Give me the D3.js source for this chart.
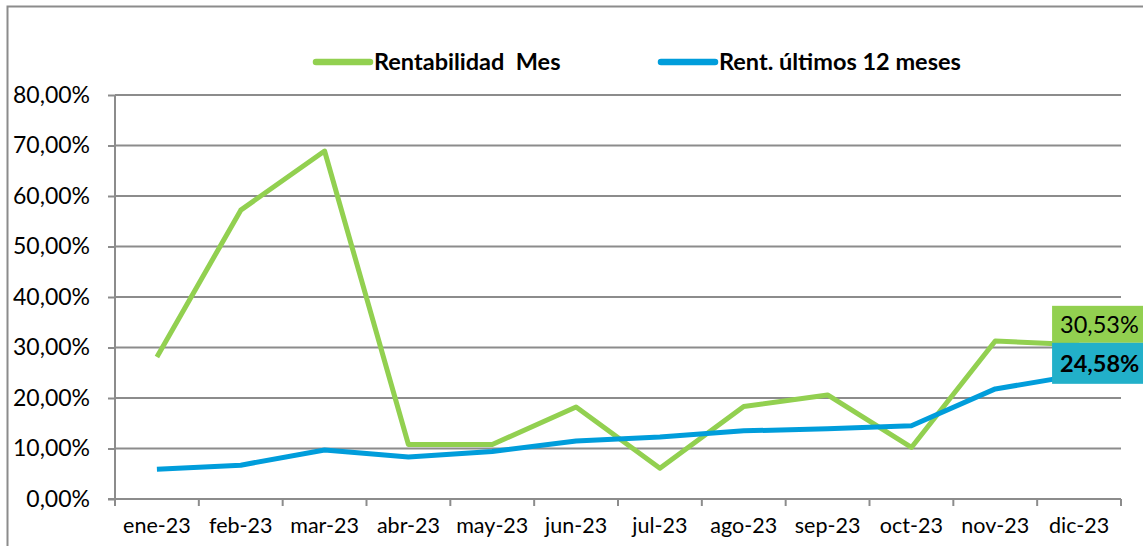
<!DOCTYPE html>
<html><head><meta charset="utf-8">
<script src="https://cdn.jsdelivr.net/npm/d3@7"></script>
<style>body{margin:0;background:#fff}svg{display:block}</style>
</head><body>
<svg id="c" width="1143" height="546"></svg>
<script>
const months = ["ene-23","feb-23","mar-23","abr-23","may-23","jun-23","jul-23","ago-23","sep-23","oct-23","nov-23","dic-23"];
const rentMes = [28.1, 57.2, 68.9, 10.8, 10.8, 18.2, 6.1, 18.3, 20.6, 10.2, 31.3, 30.53];
const rent12 = [5.9, 6.7, 9.7, 8.3, 9.4, 11.5, 12.3, 13.5, 13.9, 14.5, 21.8, 24.58];
const yTicks = [0,10,20,30,40,50,60,70,80];
const seriesNames = ["Rentabilidad  Mes", "Rent. últimos 12 meses"];
const colors = ["#92d050", "#009ddb"];
const labelFills = ["#92d050", "#22b0c9"];

const svg = d3.select("#c");
const font = "Lato, 'Open Sans', sans-serif";
const L = 115, R = 1121, T = 95, B = 499;
const x = d3.scaleBand().domain(months).range([L, R]);
const y = d3.scaleLinear().domain([0, 80]).range([B, T]);
const fmt = v => d3.format(".2f")(v).replace(".", ",") + "%";

// outer frame
svg.append("path").attr("d", "M7.5,546 V6.5 H1143").attr("fill","none").attr("stroke","#8c8c8c").attr("stroke-width",2);

// gridlines
svg.append("g").selectAll("line").data(yTicks.filter(d => d > 0)).join("line")
  .attr("x1", L).attr("x2", R).attr("y1", d => y(d)).attr("y2", d => y(d))
  .attr("stroke", "#8c8c8c").attr("stroke-width", 2);

// y axis
const ya = svg.append("g").attr("transform", `translate(${L},0)`)
  .call(d3.axisLeft(y).tickValues(yTicks).tickFormat(fmt).tickSize(7).tickPadding(18));
ya.select(".domain").attr("stroke", "#8c8c8c").attr("stroke-width", 2).attr("d", `M0,${B}V${T}`);
ya.selectAll(".tick line").attr("stroke", "#8c8c8c").attr("stroke-width", 2);
ya.selectAll("text").attr("font-family", font).attr("font-size", 23).attr("fill", "#000");

// x axis
const xa = svg.append("g").attr("transform", `translate(0,${B})`)
  .call(d3.axisBottom(x).tickSize(0).tickPadding(19));
xa.select(".domain").attr("stroke", "#8c8c8c").attr("stroke-width", 2).attr("d", `M${L-7},0H${R}`);
xa.selectAll("text").attr("font-family", font).attr("font-size", 21.5).attr("fill", "#000");
svg.append("g").selectAll("line").data(d3.range(months.length + 1)).join("line")
  .attr("x1", i => L + i * x.step()).attr("x2", i => L + i * x.step())
  .attr("y1", B).attr("y2", B + 7).attr("stroke", "#8c8c8c").attr("stroke-width", 2);

// lines
const line = d3.line().x((d, i) => x(months[i]) + x.bandwidth() / 2).y(d => y(d));
[rentMes, rent12].forEach((s, k) => {
  svg.append("path").datum(s).attr("d", line).attr("fill", "none")
    .attr("stroke", colors[k]).attr("stroke-width", 5).attr("stroke-linejoin", "round");
});

// end labels
const last = months.length - 1;
const lx = x(months[last]) + x.bandwidth() / 2 - 27;
const g1bottom = y(rentMes[last]) - 2;
const boxes = [
  {v: rentMes[last], top: g1bottom - 37, h: 37, fill: labelFills[0], bold: false},
  {v: rent12[last], top: g1bottom, h: 41, fill: labelFills[1], bold: true}
];
boxes.forEach(b => {
  svg.append("rect").attr("x", lx).attr("y", b.top).attr("width", 100).attr("height", b.h).attr("fill", b.fill);
  svg.append("text").attr("x", lx + 8).attr("y", b.top + b.h / 2 + 8.5)
    .attr("font-family", font).attr("font-size", 23.5).attr("font-weight", b.bold ? "bold" : "normal")
    .attr("fill", "#000").text(fmt(b.v));
});

// legend
const legend = [{x1: 316, x2: 370, tx: 374}, {x1: 661, x2: 715, tx: 719}];
legend.forEach((lg, k) => {
  svg.append("line").attr("x1", lg.x1).attr("x2", lg.x2).attr("y1", 62).attr("y2", 62)
    .attr("stroke", colors[k]).attr("stroke-width", 6.5).attr("stroke-linecap", "round");
  svg.append("text").attr("x", lg.tx).attr("y", 70).attr("font-family", font)
    .attr("font-size", 23.5).attr("font-weight", "bold").attr("fill", "#000")
    .style("white-space", "pre").text(seriesNames[k]);
});
</script>
</body></html>
